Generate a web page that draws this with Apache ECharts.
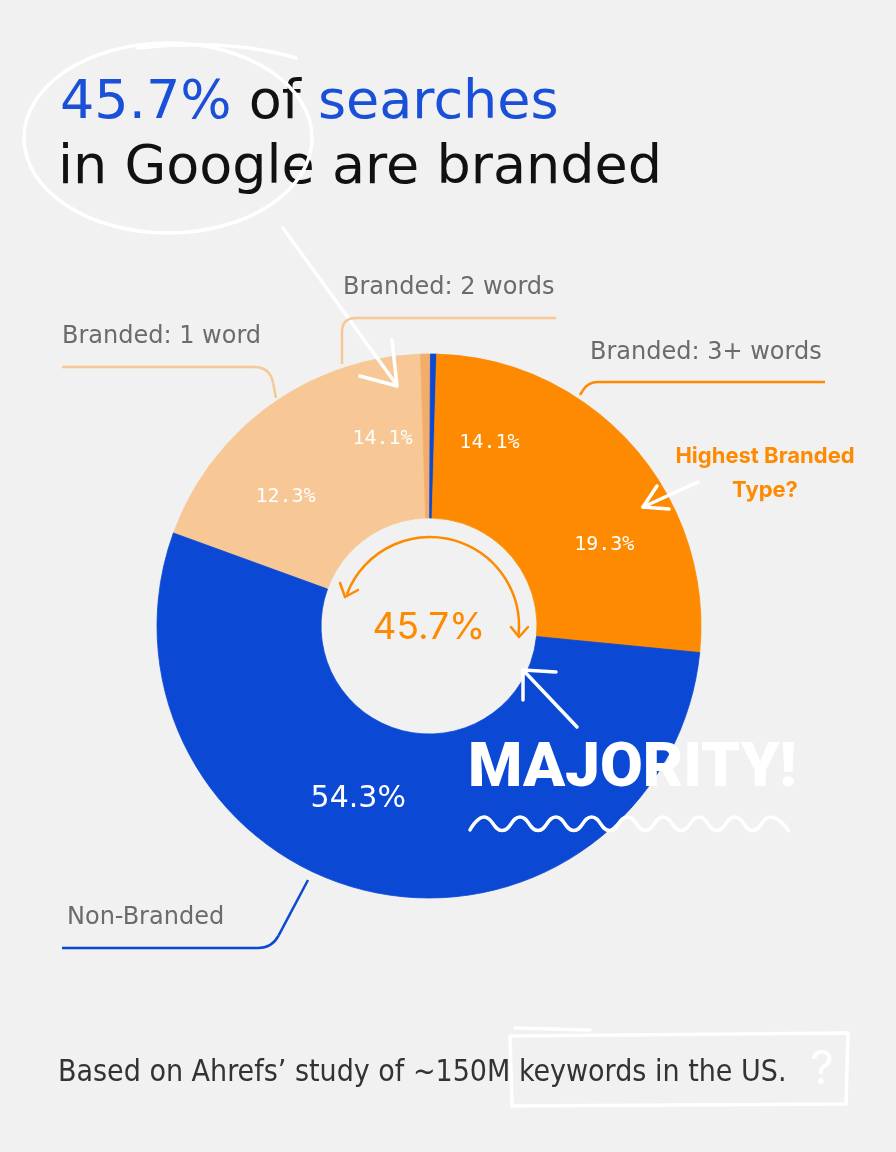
<!DOCTYPE html>
<html>
<head>
<meta charset="utf-8">
<script src="https://cdn.jsdelivr.net/npm/echarts@6/dist/echarts.min.js"></script>
<style>
  html, body { margin: 0; padding: 0; background: #f1f1f1; }
  #main { width: 896px; height: 1152px; }
</style>
</head>
<body>
<div id="main"></div>
<script>
// slices, clockwise from the left edge of the peach wedge (share of the full circle)
var sliceNames = ['Branded: 1 word (a)', 'Branded: 1 word (b)', 'Branded: 2 words', 'Sliver',
                  'Branded: 3+ words (a)', 'Branded: 3+ words (b)', 'Non-Branded'];
var sliceShares = [12.2, 6.75, 0.58, 0.36, 9.25, 16.86, 54.0];
var sliceLabels = ['12.3%', '14.1%', '', '', '14.1%', '19.3%', '54.3%'];
var calloutNames = ['Branded: 2 words', 'Branded: 1 word', 'Branded: 3+ words', 'Non-Branded'];
var centerValue = '45.7%';

var PEACH = '#f7c896', PEACH_DARK = '#f2ad6a', ORANGE = '#fd8a00', BLUE = '#0b49d4';
var sliceColors = [PEACH, PEACH, PEACH_DARK, BLUE, ORANGE, ORANGE, BLUE];
var GREY = '#6b6b6b';
var SANS = 'DejaVu Sans';

var myChart = echarts.init(document.getElementById('main'));

var pieData = sliceNames.map(function (name, i) {
  var item = {
    name: name,
    value: sliceShares[i],
    // border in the slice's own colour hides the seam between same-coloured wedges
    itemStyle: { color: sliceColors[i], borderColor: sliceColors[i], borderWidth: 0.8 },
    label: { show: sliceLabels[i] !== '' }
  };
  if (name === 'Non-Branded') {
    item.label = { show: true, fontSize: 30, fontFamily: SANS, offset: [-28, -15] };
  }
  return item;
});

// leader line with a rounded elbow: a -> corner -> b
function elbow(a, c, b, r, color) {
  function toward(p, q, d) {
    var dx = q[0] - p[0], dy = q[1] - p[1], len = Math.sqrt(dx * dx + dy * dy);
    return [p[0] + dx / len * d, p[1] + dy / len * d];
  }
  var p1 = toward(c, a, r), p2 = toward(c, b, r);
  var st = { stroke: color, lineWidth: 2.5, fill: null };
  return [
    { type: 'polyline', shape: { points: [a, p1] }, style: st },
    { type: 'bezierCurve', shape: { x1: p1[0], y1: p1[1], cpx1: c[0], cpy1: c[1], x2: p2[0], y2: p2[1] }, style: st },
    { type: 'polyline', shape: { points: [p2, b] }, style: st }
  ];
}

// wavy underline under MAJORITY!
function wavePoints(x0, y0, x1, n, amp) {
  var pts = [[x0, y0 + 4]];
  var step = (x1 - x0) / n;
  for (var i = 0; i < n; i++) {
    pts.push([x0 + i * step + step * 0.4, y0 - amp]);
    pts.push([x0 + i * step + step * 0.9, y0 + amp * 0.5]);
  }
  return pts;
}

var white = { stroke: '#ffffff', lineWidth: 3.5, fill: null, lineCap: 'round', lineJoin: 'round' };
var orangeLine = { stroke: ORANGE, lineWidth: 2.5, fill: null, lineCap: 'round', lineJoin: 'round' };

var graphics = [
  // title
  {
    type: 'text', x: 60, y: 104,
    style: {
      text: '{b|45.7%} of {b|searches}',
      rich: { b: { fill: '#1a4fd8', fontSize: 54, fontFamily: SANS } },
      fill: '#111111', fontSize: 54, fontFamily: SANS, verticalAlign: 'middle'
    }
  },
  {
    type: 'text', x: 58, y: 169,
    style: { text: 'in Google are branded', fill: '#111111', fontSize: 54, fontFamily: SANS, verticalAlign: 'middle' }
  },
  // scribbled circle + arrow from the title
  { type: 'ellipse', shape: { cx: 168, cy: 138, rx: 144, ry: 95 }, style: white },
  { type: 'bezierCurve', shape: { x1: 138, y1: 48, cpx1: 230, cpy1: 38, x2: 296, y2: 58 }, style: white },
  { type: 'polyline', shape: { points: [[283, 228], [396, 384]] }, style: white },
  { type: 'polyline', shape: { points: [[360, 376], [397, 386], [392, 340]] }, style: white },

  // callouts
  { type: 'text', x: 343, y: 288, style: { text: calloutNames[0], fill: GREY, fontSize: 24, fontFamily: SANS, verticalAlign: 'middle' } },
  { type: 'text', x: 62, y: 337, style: { text: calloutNames[1], fill: GREY, fontSize: 24, fontFamily: SANS, verticalAlign: 'middle' } },
  { type: 'text', x: 590, y: 353, style: { text: calloutNames[2], fill: GREY, fontSize: 24, fontFamily: SANS, verticalAlign: 'middle' } },
  { type: 'text', x: 67, y: 918, style: { text: calloutNames[3], fill: GREY, fontSize: 24, fontFamily: SANS, verticalAlign: 'middle' } },

  // centre value with curved arrows
  {
    type: 'text', x: 429, y: 628,
    style: { text: centerValue, fill: ORANGE, fontSize: 37, fontFamily: 'Inter', align: 'center', verticalAlign: 'middle' }
  },
  { type: 'arc', shape: { cx: 430, cy: 626, r: 89, startAngle: -2.77, endAngle: 0.09, clockwise: true }, style: orangeLine },
  { type: 'polyline', shape: { points: [[340, 583], [345, 597], [358, 590]] }, style: orangeLine },
  { type: 'polyline', shape: { points: [[511, 627], [519, 637], [528, 627]] }, style: orangeLine },

  // highest branded note
  {
    type: 'text', x: 765, y: 473,
    style: { text: 'Highest Branded\nType?', fill: ORANGE, fontSize: 22, fontWeight: 'bold', fontFamily: 'Inter',
             align: 'center', verticalAlign: 'middle', lineHeight: 34 }
  },
  { type: 'polyline', shape: { points: [[698, 482], [643, 507]] }, style: white },
  { type: 'polyline', shape: { points: [[657, 486], [643, 507], [669, 509]] }, style: white },

  // MAJORITY!
  { type: 'polyline', shape: { points: [[577, 727], [523, 670]] }, style: white },
  { type: 'polyline', shape: { points: [[523, 700], [523, 670], [556, 672]] }, style: white },
  {
    type: 'text', x: 468, y: 770,
    style: { text: 'MAJORITY!', fill: '#ffffff', fontSize: 62, fontWeight: 900, fontFamily: 'Roboto', verticalAlign: 'middle' }
  },
  { type: 'polyline', shape: { points: wavePoints(470, 826, 792, 9, 9), smooth: 0.5 }, style: white },

  // footnote
  {
    type: 'text', x: 58, y: 1073,
    style: { text: 'Based on Ahrefs\u2019 study of ~150M keywords in the US.', fill: '#333333', fontSize: 30,
             fontFamily: 'DejaVu Sans Condensed', verticalAlign: 'middle' }
  },
  { type: 'polyline', shape: { points: [[510, 1036], [848, 1033], [846, 1104], [512, 1106], [510, 1036]] }, style: white },
  { type: 'polyline', shape: { points: [[515, 1028], [590, 1030]] }, style: white },
  {
    type: 'text', x: 822, y: 1070,
    style: { text: '?', fill: '#ffffff', fontSize: 46, fontFamily: 'Inter', align: 'center', verticalAlign: 'middle' }
  }
];

graphics = graphics
  .concat(elbow([342, 364], [342, 318], [556, 318], 14, PEACH))
  .concat(elbow([62, 367], [270, 367], [276, 398], 16, PEACH))
  .concat(elbow([825, 382], [588, 382], [580, 395], 10, ORANGE))
  .concat(elbow([62, 948], [272, 948], [308, 880], 14, BLUE));

graphics.forEach(function (g) { g.z = 100; });

var option = {
  backgroundColor: '#f1f1f1',
  animation: false,
  series: [
    {
      type: 'pie',
      center: [429, 626],
      radius: [108, 272],
      startAngle: 160,
      clockwise: true,
      silent: true,
      avoidLabelOverlap: false,
      label: {
        position: 'inside',
        color: '#ffffff',
        fontSize: 20,
        fontFamily: 'DejaVu Sans Mono',
        formatter: function (p) { return sliceLabels[p.dataIndex]; }
      },
      labelLine: { show: false },
      data: pieData
    }
  ],
  graphic: graphics
};

myChart.setOption(option);
</script>
</body>
</html>
